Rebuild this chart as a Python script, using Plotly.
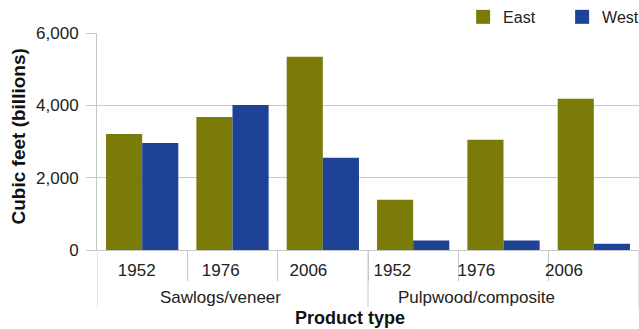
import plotly.graph_objects as go

# Product groups and harvest years
groups = ["Sawlogs/veneer", "Pulpwood/composite"]
years = ["1952", "1976", "2006", "1952", "1976", "2006"]

# Volume removed, billions of cubic feet
east = [3210, 3680, 5340, 1390, 3050, 4180]
west = [2960, 4010, 2550, 260, 260, 170]

EAST_COLOR = "#7b7b0a"
WEST_COLOR = "#1e4396"
GRID = "#c8c8c8"
TEXT = "#222222"
FONT = "Liberation Sans, Arial, sans-serif"

slots = list(range(len(years)))           # one slot per group/year pair
boundaries = [i + 0.5 for i in slots[:-1]]  # tick marks between slots
label_pos = [-0.06, 0.87, 1.84, 2.77, 3.70, 4.67]  # year label anchors
group_pos = [label_pos[1], label_pos[4]]
group_edges = [-0.5, 2.5, 5.5]

fig = go.Figure()
for name, vals, color in [("East", east, EAST_COLOR), ("West", west, WEST_COLOR)]:
    fig.add_trace(go.Bar(name=name, x=slots, y=vals, showlegend=False,
                         marker=dict(color=color, line=dict(width=0))))
    # square key for the legend
    fig.add_trace(go.Scatter(name=name, x=[None], y=[None], mode="markers",
                             marker=dict(symbol="square", size=14, color=color,
                                         line=dict(width=0))))

fig.update_layout(
    width=639, height=329,
    margin=dict(l=97, r=0, t=33, b=79, autoexpand=False),
    paper_bgcolor="white", plot_bgcolor="white",
    font=dict(family=FONT, size=17, color=TEXT),
    barmode="group", bargap=0.2, bargroupgap=0,
    legend=dict(orientation="h", x=0.6755, xanchor="left", y=1.074, yanchor="middle",
                font=dict(size=16, color=TEXT), traceorder="normal",
                itemsizing="trace", entrywidth=54, entrywidthmode="pixels",
                bgcolor="rgba(0,0,0,0)"),
    showlegend=True,
)

fig.update_yaxes(
    range=[0, 6000], tickvals=[0, 2000, 4000, 6000],
    tickformat=",d", showgrid=True, gridcolor=GRID, gridwidth=1,
    zeroline=False, showline=True, linecolor=GRID, linewidth=1,
    ticks="outside", ticklen=10, tickcolor=GRID, ticklabelstandoff=4,
    tickfont=dict(size=17, color=TEXT),
)

fig.update_xaxes(
    range=[-0.5, 5.5], tickmode="array", tickvals=label_pos, ticktext=years,
    ticks="", ticklabelstandoff=5, showgrid=False, zeroline=False,
    showline=True, linecolor=GRID, linewidth=1,
    tickfont=dict(size=17, color=TEXT),
    minor=dict(tickmode="array", tickvals=boundaries, ticks="outside",
               ticklen=30, tickcolor=GRID, showgrid=False),
)

# Dividers between the two product groups
for xe in group_edges:
    fig.add_shape(type="line", xref="x", yref="paper", x0=xe, x1=xe,
                  y0=0, y1=-0.263, line=dict(color=GRID, width=1))

for name, xp in zip(groups, group_pos):
    fig.add_annotation(text=name, x=xp, xref="x", y=-0.221, yref="paper",
                       yanchor="middle", showarrow=False,
                       font=dict(size=17, color=TEXT))

fig.add_annotation(text="<b>Product type</b>", x=(label_pos[0] + label_pos[-1]) / 2,
                   xref="x", y=-0.313, yref="paper", yanchor="middle",
                   showarrow=False, font=dict(size=18, color="#111111"))

fig.add_annotation(text="<b>Cubic feet (billions)</b>", textangle=-90,
                   x=-0.145, xref="paper", y=0.525, yref="paper",
                   xanchor="center", yanchor="middle", showarrow=False,
                   font=dict(size=19, color="#111111"))

fig.write_html("out.html")
